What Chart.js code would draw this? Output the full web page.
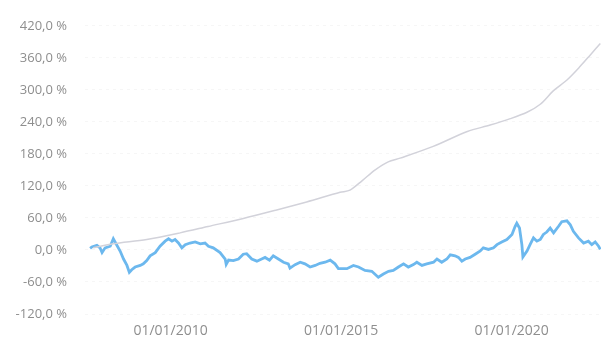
<!DOCTYPE html>
<html>
<head>
<meta charset="utf-8">
<script src="https://cdn.jsdelivr.net/npm/chart.js@4/dist/chart.umd.min.js"></script>
<style>
  html, body { margin: 0; padding: 0; background: #ffffff; }
  #wrap { width: 601px; height: 342px; position: relative; }
</style>
</head>
<body>
<div id="wrap"><canvas id="c"></canvas></div>
<script>
// Decimal-year dates and values (%)
const fundDates = [2007.64,2007.69,2007.84,2007.93,2007.99,2008.08,2008.23,2008.32,2008.40,2008.52,2008.62,2008.72,2008.79,2008.86,2008.96,2009.11,2009.20,2009.30,2009.40,2009.55,2009.69,2009.84,2009.94,2010.04,2010.13,2010.23,2010.33,2010.43,2010.57,2010.72,2010.87,2011.01,2011.11,2011.25,2011.45,2011.60,2011.63,2011.70,2011.84,2011.99,2012.13,2012.23,2012.38,2012.53,2012.67,2012.77,2012.90,2013.01,2013.16,2013.31,2013.45,2013.50,2013.65,2013.80,2013.94,2014.09,2014.24,2014.38,2014.53,2014.68,2014.82,2014.92,2015.17,2015.36,2015.51,2015.70,2015.90,2016.09,2016.24,2016.39,2016.53,2016.68,2016.83,2016.97,2017.12,2017.22,2017.37,2017.51,2017.71,2017.81,2017.95,2018.10,2018.20,2018.34,2018.44,2018.54,2018.64,2018.78,2018.93,2019.08,2019.17,2019.32,2019.47,2019.57,2019.71,2019.86,2020.01,2020.10,2020.15,2020.23,2020.30,2020.33,2020.45,2020.54,2020.64,2020.74,2020.84,2020.93,2021.03,2021.13,2021.23,2021.37,2021.47,2021.62,2021.72,2021.81,2021.96,2022.11,2022.25,2022.35,2022.45,2022.55,2022.60];
const fundValues = [3,5.5,8.6,4,-5,4,7,21,11.6,-2,-17,-29,-42,-37,-32,-29,-26,-20,-11,-5,7,16.5,21,16.5,19.6,13,4,10,13,15,11.6,13,7,4,-5,-17,-27,-19,-20,-17,-8,-7,-17,-21,-17,-14,-19,-11,-17,-23,-26,-34,-27.5,-23,-26,-32,-29,-25,-23,-19,-26,-35,-35,-29,-32,-38.5,-40,-51,-45,-40,-38.5,-32,-26,-32,-27.5,-23,-29,-26,-23,-17,-23,-17,-9,-11,-14,-21,-17,-14,-8,-2,4,1,4,10,15,19.6,29,44,50,41,10,-13,-2,10,22.6,16.5,19.6,29,33.6,41,32,44,53,54.5,47,35,22.6,13,16.5,10,15,7,1];

const benchDates = [2007.73,2008.31,2009.30,2010.28,2011.10,2012.13,2013.11,2013.99,2014.97,2015.26,2015.62,2016.00,2016.38,2016.73,2017.70,2018.70,2019.37,2019.96,2020.45,2020.84,2021.22,2021.63,2022.01,2022.30,2022.60];
const benchValues = [4,11.6,19.6,32,44,59,75,90,108,112,130,150,165,172,194,222,234,246,258,273,298,319,344,365,387];

const xTickYears = [2010, 2015, 2020];
const xTickLabels = ['01/01/2010', '01/01/2015', '01/01/2020'];
const yTickValues = [-120, -60, 0, 60, 120, 180, 240, 300, 360, 420];

const toPts = (xs, ys) => xs.map((x, i) => ({ x: x, y: ys[i] }));

new Chart(document.getElementById('c'), {
  type: 'line',
  data: {
    datasets: [
      {
        label: 'benchmark',
        data: toPts(benchDates, benchValues),
        borderColor: '#d2d2da',
        borderWidth: 1.5,
        pointRadius: 0,
        tension: 0.3,
        fill: false
      },
      {
        label: 'fund',
        data: toPts(fundDates, fundValues),
        borderColor: '#6cb8ee',
        borderWidth: 2.8,
        pointRadius: 0,
        tension: 0,
        fill: false
      }
    ]
  },
  options: {
    responsive: true,
    maintainAspectRatio: false,
    animation: false,
    layout: { padding: { top: 18, right: 0, bottom: 3, left: 0 } },
    plugins: { legend: { display: false }, tooltip: { enabled: false } },
    scales: {
      x: {
        type: 'linear',
        min: 2007.49,
        max: 2022.62,
        afterBuildTicks: (axis) => { axis.ticks = xTickYears.map(v => ({ value: v })); },
        afterFit: (axis) => { axis.height = 25; },
        grid: { display: false, drawTicks: false },
        border: { display: false },
        ticks: {
          padding: 9,
          maxRotation: 0,
          autoSkip: false,
          color: '#8e8e8e',
          font: { family: 'Open Sans', size: 14 },
          callback: (v) => { const i = xTickYears.indexOf(v); return i >= 0 ? xTickLabels[i] : ''; }
        }
      },
      y: {
        min: -120,
        max: 420,
        afterBuildTicks: (axis) => { axis.ticks = yTickValues.map(v => ({ value: v })); },
        afterFit: (axis) => { axis.width = 85; },
        grid: { color: 'rgba(0,0,0,0.035)', drawTicks: false, lineWidth: 1 },
        border: { display: false, dash: [3, 4] },
        ticks: {
          padding: 18,
          color: '#8e8e8e',
          font: { family: 'Open Sans', size: 13 },
          callback: (v) => v.toFixed(1).replace('.', ',') + ' %'
        }
      }
    }
  }
});
</script>
</body>
</html>
